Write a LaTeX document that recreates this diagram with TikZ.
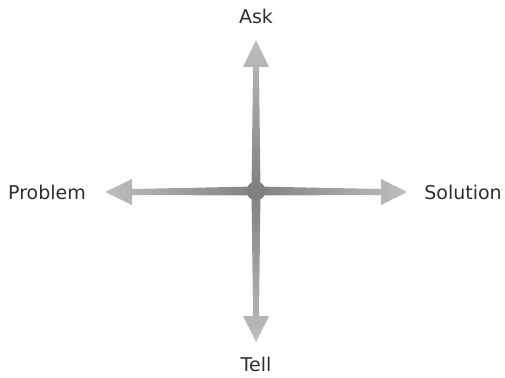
\documentclass[tikz,border=0pt]{standalone}
\usepackage{fontspec}
\setmainfont{DejaVu Sans}
\definecolor{armdark}{HTML}{808080}
\definecolor{armlight}{HTML}{BEBEBE}
\definecolor{txt}{HTML}{2E2E2E}
\tikzset{lbl/.style={text=txt, font=\fontsize{19}{21}\selectfont, inner sep=0pt}}
\begin{document}
\begin{tikzpicture}[x=1pt,y=-1pt]
\useasboundingbox (0,0) rectangle (505,377);
\coordinate (C) at (256,191);
% up arm
\shade[top color=armlight, bottom color=armdark]
  (251.5,191) -- (253,67) -- (243,67) -- (256,40) -- (269,67) -- (259,67) -- (260.5,191) -- cycle;
% down arm
\shade[bottom color=armlight, top color=armdark]
  (251.5,191) -- (253,316) -- (243,316) -- (256,342) -- (269,316) -- (259,316) -- (260.5,191) -- cycle;
% left arm
\shade[left color=armlight, right color=armdark]
  (256,186.5) -- (132,189) -- (132,179) -- (105,192) -- (132,205) -- (132,195) -- (256,195.5) -- cycle;
% right arm
\shade[right color=armlight, left color=armdark]
  (256,186.5) -- (381,189) -- (381,179) -- (407,192) -- (381,205) -- (381,195) -- (256,195.5) -- cycle;
\fill[armdark] (C) circle (9.5);
\node[lbl] (ask) at (256,16) {Ask};
\node[lbl] (tell) at (256,364) {Tell};
\node[lbl] (problem) at (47,192) {Problem};
\node[lbl] (solution) at (463,192) {Solution};
\end{tikzpicture}
\end{document}
